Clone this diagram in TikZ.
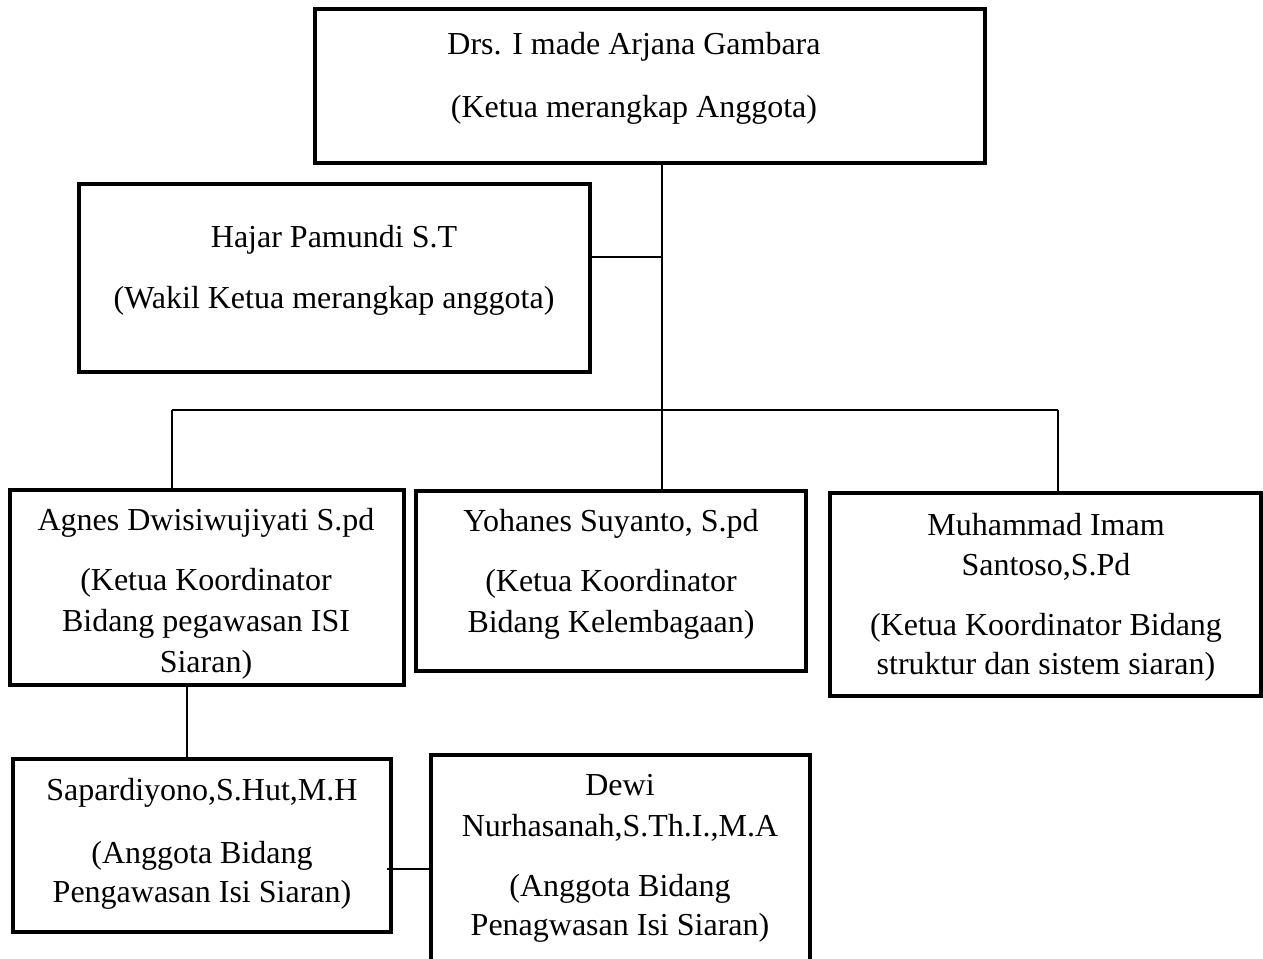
\documentclass[tikz,border=0pt]{standalone}
\usepackage{fontspec}
\setmainfont{Liberation Serif}
\begin{document}
\begin{tikzpicture}[x=1pt,y=-1pt,
  box/.style={draw, line width=3.1pt, inner sep=0pt, outer sep=0pt, anchor=north west},
  conn/.style={line width=2.9pt},
  txt/.style={font=\fontsize{32}{40}\selectfont, anchor=base, inner sep=0pt}]
\useasboundingbox (0,0) rectangle (1263,958);
\clip (0,0) rectangle (1263,958);
% boxes
\node[box, minimum width=670pt, minimum height=154pt] (ketua) at (315,9) {};
\node[box, minimum width=511pt, minimum height=188pt] (hajar) at (79,184) {};
\node[box, minimum width=394pt, minimum height=195pt] (agnes) at (10,490) {};
\node[box, minimum width=390pt, minimum height=180pt] (yohanes) at (416,491) {};
\node[box, minimum width=431pt, minimum height=203pt] (muhammad) at (830,493) {};
\node[box, minimum width=378pt, minimum height=173pt] (sap) at (13,759) {};
\node[box, minimum width=379pt, minimum height=215pt] (dewi) at (431,755) {};
% texts
\node[txt] (k1) at (634,55) {Drs. I made Arjana Gambara};
\node[txt] (k2) at (634,117) {(Ketua merangkap Anggota)};
\node[txt] (h1) at (334,247) {Hajar Pamundi S.T};
\node[txt] (h2) at (334,308) {(Wakil Ketua merangkap anggota)};
\node[txt] (a1) at (206,530) {Agnes Dwisiwujiyati S.pd};
\node[txt] (a2) at (206,590) {(Ketua Koordinator};
\node[txt] (a3) at (206,631) {Bidang pegawasan ISI};
\node[txt] (a4) at (206,672) {Siaran)};
\node[txt] (y1) at (611,531) {Yohanes Suyanto, S.pd};
\node[txt] (y2) at (611,591) {(Ketua Koordinator};
\node[txt] (y3) at (611,632) {Bidang Kelembagaan)};
\node[txt] (m1) at (1046,535) {Muhammad Imam};
\node[txt] (m2) at (1046,575) {Santoso,S.Pd};
\node[txt] (m3) at (1046,635) {(Ketua Koordinator Bidang};
\node[txt] (m4) at (1046,674) {struktur dan sistem siaran)};
\node[txt] (s1) at (202,800) {Sapardiyono,S.Hut,M.H};
\node[txt] (s2) at (202,863) {(Anggota Bidang};
\node[txt] (s3) at (202,902) {Pengawasan Isi Siaran)};
\node[txt] (d1) at (620,795) {Dewi};
\node[txt] (d2) at (620,836) {Nurhasanah,S.Th.I.,M.A};
\node[txt] (d3) at (620,896) {(Anggota Bidang};
\node[txt] (d4) at (620,935) {Penagwasan Isi Siaran)};
% connectors
\coordinate (bus) at (662,410);
\coordinate (busL) at (172,410);
\coordinate (busR) at (1058,410);
\coordinate (hj) at (662,257);
\coordinate (sv) at (187,720);
\coordinate (sd) at (387,869);
\draw[conn] (ketua.south -| bus) -- (bus);
\draw[conn] (hj -| hajar.east) -- (hj);
\draw[conn] (busL) -- (busR);
\draw[conn] (busL) -- (busL |- agnes.north);
\draw[conn] (bus) -- (bus |- yohanes.north);
\draw[conn] (busR) -- (busR |- muhammad.north);
\draw[conn] (sv |- agnes.south) -- (sv |- sap.north);
\draw[conn] (sd) -- (sd -| dewi.west);
\end{tikzpicture}
\end{document}
